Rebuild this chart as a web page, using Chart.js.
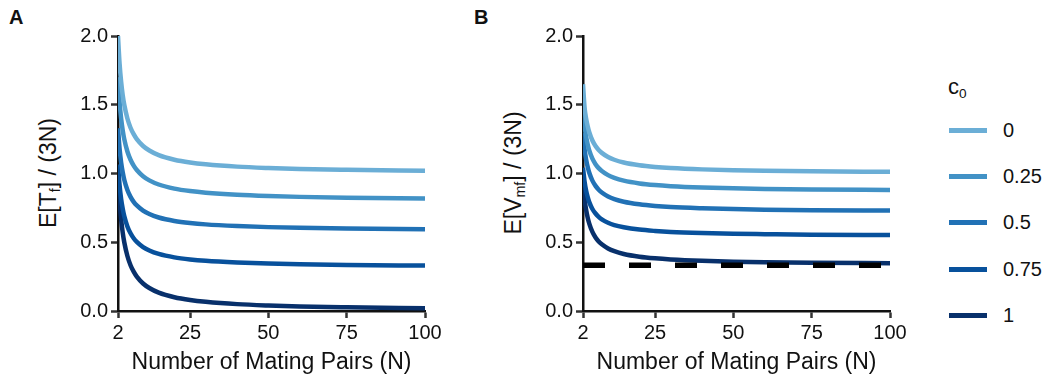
<!DOCTYPE html>
<html>
<head>
<meta charset="utf-8">
<script src="https://cdn.jsdelivr.net/npm/chart.js@4/dist/chart.umd.min.js"></script>
<style>
	body { margin: 0; background: #fff; font-family: 'Liberation Sans', Arial, sans-serif; color: #111; }
	#page { position: relative; width: 1047px; height: 379px; overflow: hidden; }
	.panel { position: absolute; top: 0; width: 445px; height: 379px; }
	.tag { position: absolute; font-weight: bold; font-size: 20px; }
	.ytitle { position: absolute; font-size: 23px; white-space: nowrap; transform: translate(-50%, -50%) rotate(-90deg); }
	sub { font-size: 62%; vertical-align: baseline; position: relative; top: 0.3em; }
	#legend { position: absolute; left: 948px; top: 0; }
	.lg-title { position: absolute; left: 0; top: 74px; font-size: 22px; white-space: nowrap; }
	.lg-item { position: absolute; left: 0; width: 100px; height: 22px; }
	.lg-swatch { position: absolute; left: 1px; top: 9px; width: 38px; height: 5px; }
	.lg-label { position: absolute; left: 55px; top: 0; font-size: 20px; line-height: 22px; }
</style>
</head>
<body>
<div id="page">
	<div class="tag" style="left:9px; top:6px;">A</div>
	<div class="tag" style="left:474px; top:6px;">B</div>
	<div class="ytitle" style="left:48px; top:173px;">E[T<sub>f</sub>] / (3N)</div>
	<div class="ytitle" style="left:513px; top:173px;">E[V<sub>mf</sub>] / (3N)</div>
	<div class="panel" style="left:0px;"><canvas id="chartA"></canvas></div>
	<div class="panel" style="left:465px;"><canvas id="chartB"></canvas></div>
	<div id="legend"></div>
</div>
<script>
const nValues = [2, 2.5, 3, 3.5, 4, 5, 6, 7, 8, 10, 12, 15, 20, 25, 30, 40, 50, 60, 75, 100];
const xTicks  = [2, 25, 50, 75, 100];
const c0Labels = ['0', '0.25', '0.5', '0.75', '1'];

// Panel A: E[Tf] / (3N)
const tf_c0_0    = [2.00, 1.80, 1.667, 1.571, 1.50, 1.40, 1.333, 1.286, 1.25, 1.20, 1.167, 1.133, 1.10, 1.08, 1.067, 1.05, 1.04, 1.033, 1.027, 1.02];
const tf_c0_025  = [1.70, 1.52, 1.40, 1.314, 1.25, 1.16, 1.10, 1.057, 1.025, 0.98, 0.95, 0.92, 0.89, 0.872, 0.86, 0.845, 0.836, 0.83, 0.824, 0.818];
const tf_c0_05   = [1.33, 1.18, 1.08, 1.009, 0.955, 0.88, 0.83, 0.794, 0.768, 0.73, 0.705, 0.68, 0.655, 0.64, 0.63, 0.618, 0.61, 0.605, 0.60, 0.595];
const tf_c0_075  = [1.065, 0.915, 0.815, 0.744, 0.69, 0.615, 0.565, 0.529, 0.503, 0.465, 0.44, 0.415, 0.39, 0.375, 0.365, 0.353, 0.345, 0.34, 0.335, 0.33];
const tf_c0_1    = [1.00, 0.80, 0.667, 0.571, 0.50, 0.40, 0.333, 0.286, 0.25, 0.20, 0.167, 0.133, 0.10, 0.08, 0.067, 0.05, 0.04, 0.033, 0.027, 0.02];

// Panel B: E[Vmf] / (3N)
const vmf_c0_0   = [1.65, 1.48, 1.40, 1.343, 1.30, 1.24, 1.20, 1.171, 1.15, 1.12, 1.10, 1.08, 1.06, 1.048, 1.04, 1.03, 1.024, 1.02, 1.016, 1.012];
const vmf_c0_025 = [1.468, 1.348, 1.268, 1.211, 1.168, 1.108, 1.068, 1.039, 1.018, 0.988, 0.968, 0.948, 0.928, 0.916, 0.908, 0.898, 0.892, 0.888, 0.884, 0.88];
const vmf_c0_05  = [1.293, 1.178, 1.101, 1.047, 1.005, 0.948, 0.91, 0.882, 0.862, 0.833, 0.814, 0.795, 0.776, 0.764, 0.756, 0.747, 0.741, 0.737, 0.733, 0.73];
const vmf_c0_075 = [1.042, 0.942, 0.875, 0.828, 0.792, 0.742, 0.709, 0.685, 0.667, 0.642, 0.625, 0.609, 0.592, 0.582, 0.575, 0.567, 0.562, 0.559, 0.555, 0.552];
const vmf_c0_1   = [0.935, 0.815, 0.735, 0.678, 0.635, 0.575, 0.535, 0.506, 0.485, 0.455, 0.435, 0.415, 0.395, 0.383, 0.375, 0.365, 0.359, 0.355, 0.351, 0.347];

// Dashed floor in panel B
const floorN   = [2, 100];
const floorVal = [0.333, 0.333];

const blues = ['#6baed6', '#4292c6', '#2171b5', '#08519c', '#08306b'];
const FONT = "'Liberation Sans', Arial, sans-serif";

function curveSets(seriesList) {
	return seriesList.map((vals, i) => ({
		label: c0Labels[i],
		data: nValues.map((n, j) => ({ x: n, y: vals[j] })),
		borderColor: blues[i],
		backgroundColor: blues[i],
		borderWidth: 4.5,
		pointRadius: 0,
		cubicInterpolationMode: 'monotone',
		fill: false,
		order: 1,
	}));
}

function makeChart(id, datasets) {
	return new Chart(document.getElementById(id), {
		type: 'line',
		data: { datasets: datasets },
		options: {
			responsive: true,
			maintainAspectRatio: false,
			animation: false,
			layout: { padding: { left: 0, top: 36, right: 20, bottom: 0 } },
			plugins: { legend: { display: false }, tooltip: { enabled: false } },
			scales: {
				x: {
					type: 'linear', min: 2, max: 100,
					afterBuildTicks: s => { s.ticks = xTicks.map(v => ({ value: v })); },
					afterFit: s => { s.height = 68; },
					ticks: { font: { family: FONT, size: 20 }, color: '#111', padding: 3, maxRotation: 0, autoSkip: false },
					grid: { drawOnChartArea: false, drawTicks: true, tickLength: 7, tickWidth: 2.5, tickColor: '#333' },
					border: { display: true, color: '#111', width: 2.5 },
					title: { display: true, text: 'Number of Mating Pairs (N)', font: { family: FONT, size: 23 }, color: '#111', padding: { top: 0, bottom: 3 } },
				},
				y: {
					min: 0, max: 2,
					afterFit: s => { s.width = 118; },
					ticks: { stepSize: 0.5, callback: v => v.toFixed(1), font: { family: FONT, size: 20 }, color: '#111', padding: 3 },
					grid: { drawOnChartArea: false, drawTicks: true, tickLength: 7, tickWidth: 2.5, tickColor: '#333' },
					border: { display: true, color: '#111', width: 2.5 },
				},
			},
		},
	});
}

makeChart('chartA', curveSets([tf_c0_0, tf_c0_025, tf_c0_05, tf_c0_075, tf_c0_1]));

makeChart('chartB', [{
	label: 'floor',
	data: floorN.map((n, j) => ({ x: n, y: floorVal[j] })),
	borderColor: '#000',
	borderWidth: 5.5,
	borderDash: [22, 24],
	pointRadius: 0,
	fill: false,
	order: 0,
}].concat(curveSets([vmf_c0_0, vmf_c0_025, vmf_c0_05, vmf_c0_075, vmf_c0_1])));

// Legend
let legend = document.getElementById('legend');
legend.innerHTML = '<div class="lg-title">c<sub>0</sub></div>';
c0Labels.forEach((lab, i) => {
	let item = document.createElement('div');
	item.className = 'lg-item';
	item.style.top = (119 + i * 46.2) + 'px';
	item.innerHTML = '<div class="lg-swatch" style="background:' + blues[i] + '"></div><div class="lg-label">' + lab + '</div>';
	legend.appendChild(item);
});
</script>
</body>
</html>
